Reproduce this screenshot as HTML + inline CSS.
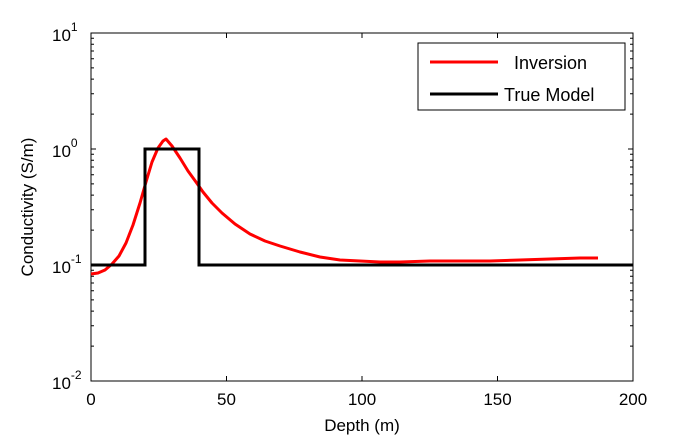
<!DOCTYPE html>
<html><head><style>body{margin:0;background:#fff}svg{display:block}text{font-family:"Liberation Sans",Arial,sans-serif;fill:#000}</style></head><body>
<svg width="700" height="440" viewBox="0 0 700 440">
<rect x="0" y="0" width="700" height="440" fill="#fff"/>
<g stroke="#000" stroke-width="1" fill="none">
<rect x="91" y="33" width="542" height="348"/>
<path d="M226.5 381v-5M362 381v-5M497.5 381v-5M226.5 33v5M362 33v5M497.5 33v5"/>
<path d="M91 149h5M91 265h5M633 149h-5M633 265h-5"/>
<path d="
M91 346.1h3M91 325.7h3M91 311.1h3M91 299.9h3M91 290.7h3M91 283h3M91 276.2h3M91 270.3h3
M91 230.1h3M91 209.7h3M91 195.1h3M91 183.9h3M91 174.7h3M91 167h3M91 160.2h3M91 154.3h3
M91 114.1h3M91 93.7h3M91 79.1h3M91 67.9h3M91 58.7h3M91 51h3M91 44.2h3M91 38.3h3
M633 346.1h-3M633 325.7h-3M633 311.1h-3M633 299.9h-3M633 290.7h-3M633 283h-3M633 276.2h-3M633 270.3h-3
M633 230.1h-3M633 209.7h-3M633 195.1h-3M633 183.9h-3M633 174.7h-3M633 167h-3M633 160.2h-3M633 154.3h-3
M633 114.1h-3M633 93.7h-3M633 79.1h-3M633 67.9h-3M633 58.7h-3M633 51h-3M633 44.2h-3M633 38.3h-3"/>
</g>
<polyline fill="none" stroke="#ff0000" stroke-width="3" stroke-linejoin="round" points="91,274 98,273 105,270 112,264 119,256 126,243 133,225 140,203 146,182 152,162 158,148 163,141 166,139 172,146 180,158 188,171 196,182 203,192 212,203 222,213 235,224 250,234 265,241 280,246 300,252 320,257 340,260 360,261 380,262 400,262 430,261 460,261 490,261 520,260 550,259 580,258 598,258"/>
<polyline fill="none" stroke="#000" stroke-width="3" points="91,265 145,265 145,149 199,149 199,265 633,265"/>
<g font-size="17">
<text x="91" y="405" text-anchor="middle">0</text>
<text x="226.5" y="405" text-anchor="middle">50</text>
<text x="362" y="405" text-anchor="middle">100</text>
<text x="497.5" y="405" text-anchor="middle">150</text>
<text x="633" y="405" text-anchor="middle">200</text>
<text x="362" y="431" text-anchor="middle">Depth (m)</text>
<text x="52" y="41">10<tspan font-size="12" dy="-10">1</tspan></text>
<text x="52" y="157">10<tspan font-size="12" dy="-10">0</tspan></text>
<text x="52" y="273">10<tspan font-size="12" dy="-10">-1</tspan></text>
<text x="52" y="389">10<tspan font-size="12" dy="-10">-2</tspan></text>
<text transform="translate(33 207) rotate(-90)" text-anchor="middle">Conductivity (S/m)</text>
</g>
<rect x="418" y="43" width="207" height="67" fill="#fff" stroke="#000" stroke-width="1"/>
<line x1="430" y1="62" x2="498" y2="62" stroke="#ff0000" stroke-width="3"/>
<line x1="430" y1="94" x2="498" y2="94" stroke="#000" stroke-width="3"/>
<text x="514" y="69" font-size="18">Inversion</text>
<text x="504" y="101" font-size="18">True Model</text>
</svg>
</body></html>
